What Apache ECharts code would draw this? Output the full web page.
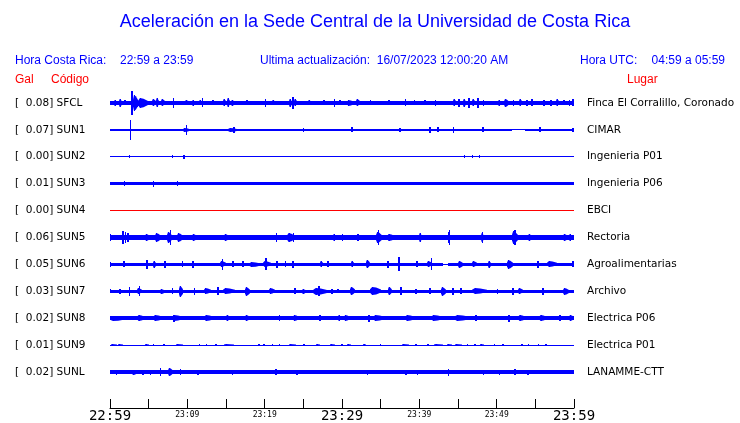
<!DOCTYPE html>
<html><head><meta charset="utf-8">
<script src="https://cdn.jsdelivr.net/npm/echarts@6/dist/echarts.min.js"></script>
<style>html,body{margin:0;padding:0;background:#fff}#c{width:740px;height:423px}</style>
</head><body><div id="c"></div><script>
// ---- data (time in minutes after 22:59, amplitudes in trace-slot units) ----
const codes = ['SFCL','SUN1','SUN2','SUN3','SUN4','SUN5','SUN6','SUN7','SUN8','SUN9','SUNL'];
const galValues = ['0.08','0.07','0.00','0.01','0.00','0.06','0.05','0.03','0.02','0.01','0.02'];
const places = ['Finca El Corralillo, Coronado','CIMAR','Ingenieria P01','Ingenieria P06','EBCI','Rectoria','Agroalimentarias','Archivo','Electrica P06','Electrica P01','LANAMME-CTT'];
const timeTicks = ['22:59','23:04','23:09','23:14','23:19','23:24','23:29','23:34','23:39','23:44','23:49','23:54','23:59'];
const majorTicks = ['22:59','23:29','23:59'];
const minorLabels = ['23:09','23:19','23:39','23:49'];

// base band segments [t0, t1, halfAmp]
const base_SFCL = [[0,60,1.8]];
const base_SUN1 = [[0,52,1.3],[52,53.6,0.5],[53.6,60,1.3]];
const base_SUN2 = [[0,60,0.5]];
const base_SUN3 = [[0,60,1.7]];
const base_SUN4 = [[0,60,0.5]];
const base_SUN5 = [[0,60,3]];
const base_SUN6 = [[0,43,1.7],[43,43.7,0.5],[43.7,60,1.7]];
const base_SUN7 = [[0,60,1.7]];
const base_SUN8 = [[0,60,2.2]];
const base_SUN9 = [[0,60,0.5]];
const base_SUNL = [[0,60,1.7]];

// bursts / spikes [t0, t1, halfAmp]
const ev_SFCL = [[0.5,0.9,3],[1.2,1.6,3.7],[1.8,2.1,2.5],[2.7,3.0,12],[3.0,3.6,8],[3.6,4.9,5],[5.4,5.9,3.5],[6.0,6.4,4.5],[6.6,7.1,3.5],[8.1,8.2,5],[9.7,10.2,2.5],[10.6,11,3],[11.5,11.9,2.5],[11.85,12,4.5],[13.2,13.4,2.5],[14.6,15.0,3.5],[15.1,15.5,4.5],[15.7,16.1,3],[17.6,17.8,2.5],[20.0,20.15,4],[21.0,21.3,2.5],[23.2,23.5,4],[23.5,23.8,6],[23.8,24.2,3.5],[25.6,26.0,2.5],[27.6,27.8,2.5],[29.0,29.15,4],[29.6,29.9,2.5],[30.6,31.5,3],[31.8,32.3,3.5],[33.6,33.8,2.5],[36.0,36.2,2.5],[38.1,38.25,3.5],[39.3,39.5,2.5],[40.6,40.8,2.5],[42.0,42.2,3],[44.3,44.7,3.5],[45.0,45.2,4],[45.6,46.0,4],[46.3,46.5,5],[46.8,47.2,3.5],[47.5,47.7,5],[48.2,48.4,3],[50.2,50.6,3],[50.9,51.6,4],[52.1,52.3,3],[52.9,53.3,3.5],[53.8,54.0,3],[54.5,54.7,3.5],[56.0,56.2,3],[56.9,57.2,3],[57.7,58.1,3.5],[58.6,58.8,2.5],[59.3,59.5,3],[59.8,59.95,3.5]];
const ev_SUN1 = [[2.55,2.7,10],[9.4,10.4,2.2],[9.8,9.95,5],[15.3,16.5,2],[15.9,16.1,3],[24.9,25.1,2],[31.2,31.4,2.5],[37.4,37.6,2],[41.3,41.5,3],[42.3,42.5,2.5],[44.3,44.5,3],[48.1,48.3,2.5],[55.5,55.7,2.5],[59.8,59.95,2]];
const ev_SUN2 = [[2.4,2.55,1.5],[8.0,8.15,1.3],[9.5,9.65,1.8],[45.8,45.95,1.5],[46.8,46.95,1.5],[47.7,47.85,1.5]];
const ev_SUN3 = [[1.8,1.95,2.5],[5.6,5.75,3],[8.6,8.75,2.5]];
const ev_SUN4 = [];
const ev_SUN5 = [[0.0,0.15,4],[1.6,1.8,7],[1.9,2.1,6],[2.2,2.5,5],[4.5,5.2,4],[5.8,6.6,5],[7.4,8.0,6],[7.7,7.85,7.5],[8.6,9.4,5],[10.6,11.3,3.5],[14.8,15.4,3.5],[21.5,21.65,5],[22.9,23.9,4.2],[23.6,23.75,4.5],[28.8,29.2,3.5],[30.0,30.15,3.5],[32.0,32.15,3.5],[34.4,35.2,6],[34.6,34.75,7.5],[35.8,36.8,4],[40.0,40.3,5],[43.7,44.0,6],[43.8,43.95,7.5],[48.0,48.4,5],[48.1,48.25,6],[52.0,52.8,6.5],[52.3,52.45,8],[54.0,54.6,4],[58.6,59.2,4],[59.4,59.8,3.5]];
const ev_SUN6 = [[0,0.12,2.5],[1.7,1.9,3],[4.7,4.85,4.5],[5.5,5.9,3.5],[7.0,7.3,3.5],[9.3,9.45,3],[10.6,10.9,3.5],[14.2,15.0,3],[14.5,14.65,5.5],[15.8,16.0,3],[17.1,17.3,3],[18.0,19.5,2.5],[19.8,20.8,3],[20.1,20.25,6],[21.5,21.7,3.5],[22.6,22.8,3],[23.5,23.8,3.5],[27.2,27.5,3],[28.0,28.3,3],[31.2,31.5,3],[33.1,33.6,4],[35.8,36.1,3.5],[37.3,37.45,7],[39.6,39.8,3],[41.0,41.6,3],[41.5,41.65,6],[45.0,45.6,3.5],[46.8,47.4,3],[48.9,49.3,3.5],[51.4,52.1,4.5],[55.2,55.5,3.5],[56.5,57.8,3],[59.8,59.95,3]];
const ev_SUN7 = [[0,0.15,2],[1.2,1.4,2.5],[2.4,2.6,4.7],[3.5,4.1,3],[3.7,3.9,5],[6.5,7.1,2.5],[8.0,8.2,3],[8.9,9.5,5.5],[9.0,9.15,5.5],[10.8,11.0,3.5],[12.2,13.1,3],[13.9,14.1,4],[14.6,16.2,3],[17.4,18.1,4.5],[20.6,21.3,3],[23.8,24.0,3],[24.8,25.4,2.5],[26.2,28.1,3.5],[26.9,27.1,5],[28.6,28.8,2.5],[29.4,29.55,2],[31.0,31.7,4],[33.6,35.0,4],[35.9,36.5,4],[37.5,37.7,4],[39.5,39.65,2.5],[41.2,41.5,3],[42.8,43.4,4.5],[44.2,44.5,3.5],[45.3,45.5,3],[46.8,48.7,3],[50.0,50.2,2.5],[52.0,52.3,3.5],[52.8,53.4,3],[55.8,56.1,3.5],[58.6,59.3,3.5]];
const ev_SUN8 = [[0,2.0,2.7],[3.5,4.5,3],[5.5,6.8,2.8],[8.0,9.4,3],[8.2,8.4,3.5],[12.2,13.4,3],[15.0,15.5,2.8],[17.5,18.1,2.8],[21.8,22.0,3],[23.6,24.4,3],[27.0,27.3,2.8],[29.5,29.9,2.8],[30.2,31.0,3],[33.4,33.6,3.5],[34.0,35.5,2.8],[38.1,39.5,3],[41.5,43.1,3],[44.5,46.5,3],[47.2,47.5,2.8],[51.5,51.7,3.5],[52.8,53.8,3],[55.5,56.5,3],[58.0,58.3,3],[59.3,59.95,3]];
const ev_SUN9 = [[0.1,0.9,1.2],[1.0,1.7,1.3],[4.5,5.0,1.3],[5.5,5.7,1.3],[6.9,7.1,1.3],[8.5,9.5,1.3],[11.5,11.7,1.3],[12.4,12.6,1.2],[13.6,13.8,1.3],[14.7,16.0,1.3],[19.2,19.4,1.3],[19.8,20.0,1.2],[20.9,21.1,1.3],[21.8,22.0,1.2],[23.2,24.0,1.3],[25.0,25.2,1.2],[26.6,27.2,1.3],[28.4,29.1,1.3],[29.9,30.1,1.2],[30.6,31.2,1.3],[32.7,33.1,1.3],[34.9,35.1,1.2],[37.8,38.6,1.3],[39.5,39.7,1.2],[41.0,41.2,1.2],[41.9,43.1,1.3],[43.6,44.2,1.3],[44.6,45.5,1.3],[46.1,46.3,1.2],[47.1,47.3,1.2],[47.9,48.4,1.3],[49.6,49.8,1.2],[50.7,50.9,1.2],[53.2,53.4,1.3],[54.0,54.2,1.2],[55.3,55.5,1.2],[56.3,56.5,1.3]];
const ev_SUNL = [[0.8,0.95,2.5],[2.9,3.5,2.5],[4.2,4.35,2.5],[5.2,5.35,2.5],[6.5,6.65,4],[7.5,8.2,4],[9.0,9.15,3],[11.3,11.45,2.5],[15.8,15.95,2.5],[21.4,21.55,3],[24.1,24.25,2.5],[30.0,32.5,2],[33.2,33.35,2.5],[38.2,38.35,2.5],[39.7,39.85,2.5],[43.7,43.9,3.5],[48.2,48.35,2.5],[50.3,50.45,2.5],[52.3,52.45,3],[53.9,54.2,2.5],[56.5,59.9,2]];

const bases = [base_SFCL,base_SUN1,base_SUN2,base_SUN3,base_SUN4,base_SUN5,base_SUN6,base_SUN7,base_SUN8,base_SUN9,base_SUNL];
const events = [ev_SFCL,ev_SUN1,ev_SUN2,ev_SUN3,ev_SUN4,ev_SUN5,ev_SUN6,ev_SUN7,ev_SUN8,ev_SUN9,ev_SUNL];

// ---- chart ----
const SLOT = 27;
const BLUE = '#0000ff', RED = '#ff0000';
const chart = echarts.init(document.getElementById('c'), null, {renderer:'canvas'});

// kind 0 = base band (flat rectangle), kind 1 = burst (tapered spindle)
function makeRender(color){
  return function(params, api){
    const kind = api.value(0), i = api.value(1), t0 = api.value(2), t1 = api.value(3), a = api.value(4);
    const c = (i + 1) * SLOT;
    const p0 = api.coord([t0, c - a]);
    const p1 = api.coord([t1, c + a]);
    const x = Math.round(p0[0]);
    const w = Math.max(1, Math.round(p1[0]) - x);
    const y0 = Math.round(Math.min(p0[1], p1[1]));
    const y1 = Math.round(Math.max(p0[1], p1[1]));
    if (kind === 0 || w <= 2) {
      return {type:'rect', shape:{x:x, y:y0, width:w, height:Math.max(1, y1 - y0)}, style:{fill:color}};
    }
    const cy = (y0 + y1) / 2, h = (y1 - y0) / 2;
    const pts = [
      [x, cy - h*0.45], [x + w*0.2, cy - h], [x + w*0.55, cy - h*0.85], [x + w, cy - h*0.4],
      [x + w, cy + h*0.4], [x + w*0.55, cy + h*0.85], [x + w*0.2, cy + h], [x, cy + h*0.45]
    ];
    return {type:'group', children:[
      {type:'polygon', shape:{points:pts}, style:{fill:color}},
      {type:'rect', shape:{x:x + Math.round(w*0.2), y:y0, width:1, height:y1 - y0}, style:{fill:color}}
    ]};
  };
}

const series = codes.map((code, i) => {
  const data = bases[i].map(e => [0, i, e[0], e[1], e[2]])
    .concat(events[i].map(e => [1, i, e[0], e[1], e[2]]));
  return {
    type:'custom', name:code, renderItem: makeRender(code === 'SUN4' ? RED : BLUE),
    data:data, encode:{x:[2,3], y:4}, silent:true, clip:false
  };
});

const txt = (x, y, text, color, size, align) => ({
  type:'text', x:x, y:y,
  style:{text:text, fill:color, font:size + 'px "Liberation Sans", Arial, sans-serif', textAlign:align || 'left', textVerticalAlign:'middle'}
});

chart.setOption({
  animation:false,
  backgroundColor:'#fff',
  grid:{left:110, right:166, top:76, height:324},
  xAxis:{
    type:'value', min:0, max:60, interval:5, offset:9, position:'bottom',
    axisLine:{show:true, onZero:false, lineStyle:{color:'#000', width:1}},
    axisTick:{show:true, inside:true, length:9, lineStyle:{color:'#000'}},
    splitLine:{show:false},
    axisLabel:{
      margin:1,
      formatter:function(v){
        const lab = timeTicks[Math.round(v/5)];
        if (majorTicks.indexOf(lab) >= 0) return '{b|' + lab + '}';
        if (minorLabels.indexOf(lab) >= 0) return '{s|' + lab + '}';
        return '';
      },
      rich:{
        b:{fontFamily:'DejaVu Sans Mono', fontSize:14, lineHeight:14, color:'#000'},
        s:{fontFamily:'DejaVu Sans Mono', fontSize:8, lineHeight:12, color:'#000'}
      }
    }
  },
  yAxis:[{
    type:'value', inverse:true, min:0, max:12*SLOT, interval:SLOT, position:'left',
    axisLine:{show:false}, axisTick:{show:false}, splitLine:{show:false},
    axisLabel:{
      align:'left', margin:95, color:'#000', fontFamily:'DejaVu Sans', fontSize:10.5,
      formatter:function(v){
        const i = Math.round(v/SLOT) - 1;
        if (i < 0 || i >= codes.length) return '';
        return '[  ' + galValues[i] + '] ' + codes[i];
      }
    }
  },{
    type:'value', inverse:true, min:0, max:12*SLOT, interval:SLOT, position:'right',
    axisLine:{show:false}, axisTick:{show:false}, splitLine:{show:false},
    axisLabel:{
      align:'left', margin:13, color:'#000', fontFamily:'DejaVu Sans', fontSize:10.5,
      formatter:function(v){
        const i = Math.round(v/SLOT) - 1;
        if (i < 0 || i >= places.length) return '';
        return places[i];
      }
    }
  }],
  graphic:[
    txt(375, 22, 'Aceleración en la Sede Central de la Universidad de Costa Rica', BLUE, 18, 'center'),
    txt(15, 61, 'Hora Costa Rica:', BLUE, 12),
    txt(120, 61, '22:59 a 23:59', BLUE, 12),
    txt(260, 61, 'Ultima actualización:  16/07/2023 12:00:20 AM', BLUE, 12),
    txt(580, 61, 'Hora UTC:', BLUE, 12),
    txt(725, 61, '04:59 a 05:59', BLUE, 12, 'right'),
    txt(15, 80, 'Gal', RED, 12),
    txt(51, 80, 'Código', RED, 12),
    txt(627, 80, 'Lugar', RED, 12)
  ],
  series:series
});
</script></body></html>
